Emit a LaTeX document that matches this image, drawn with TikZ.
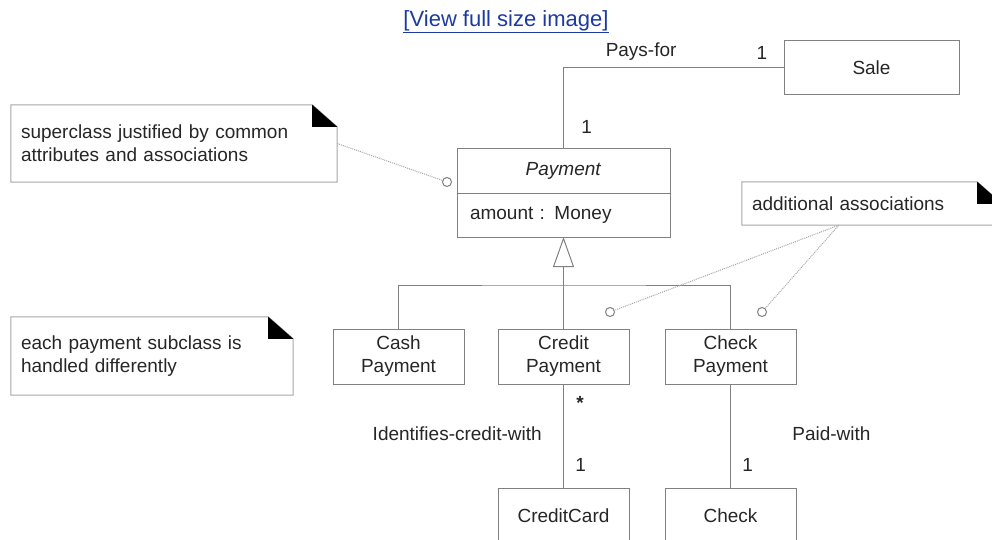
\documentclass[tikz,border=0pt]{standalone}
\usepackage{fontspec}
\setmainfont{Liberation Sans}
\usetikzlibrary{shapes,arrows,arrows.meta,positioning}
\definecolor{linkblue}{RGB}{28,58,160}

% note outline with its folded corner
\newcommand{\notefold}[1]{%
  \draw[draw=black!35, line width=1pt] (#1.north west) -- ([xshift=-25pt]#1.north east)
    -- ([yshift=-22pt]#1.north east) -- (#1.south east) -- (#1.south west) -- cycle;
  \fill[black] ([xshift=-25pt]#1.north east) -- ([xshift=-25pt,yshift=-22pt]#1.north east)
    -- ([yshift=-22pt]#1.north east) -- cycle;}

\begin{document}
\begin{tikzpicture}[
    x=1pt, y=-1pt,
    node distance=34pt,
    auto,
    >=stealth',
    every node/.style={align=center, text=black!85, font=\fontsize{19}{23}\selectfont}
]

% Define styles
\tikzstyle{classbox} = [rectangle, draw=black!50, line width=1pt, outer sep=0pt,
    minimum width=131pt, minimum height=55pt, inner sep=2pt]
\tikzstyle{notebox} = [rectangle, align=left, inner xsep=10pt, inner ysep=2pt]
\tikzstyle{line} = [draw=black!50, line width=1pt]
\tikzstyle{noteline} = [draw=black!35, line width=1pt, densely dotted]
\tikzstyle{anchorring} = [circle, draw=black!50, line width=1pt, minimum size=9pt, inner sep=0pt]

\useasboundingbox (0,0) rectangle (992,540);
\clip (0,0) rectangle (992,540);

% Link
\node [text=linkblue, font=\fontsize{22}{26}\selectfont] (viewlink) at (506,22) {\underline{[View full size image]}};

% Classes
\node [classbox, minimum width=175pt, minimum height=54pt] (sale) at (871.5,67.5) {Sale};
\node [classbox, minimum width=213pt, minimum height=44pt] (payname) at (563.5,171) {\textit{Payment}};
\node [classbox, minimum width=213pt, minimum height=44pt, text width=187pt, inner xsep=13pt,
    align=left, below=0pt of payname] (payattr) {amount :\enspace Money};
\node [classbox, below=92pt of payattr] (credit) {Credit\\Payment};
\node [classbox, left=34pt of credit] (cash) {Cash\\Payment};
\node [classbox, right=36pt of credit] (checkpay) {Check\\Payment};
\node [classbox, below=104pt of credit] (creditcard) {CreditCard};
\node [classbox, below=104pt of checkpay] (check) {Check};

% Notes
\node [notebox, text width=306pt, minimum height=77pt] (note1) at (174,143.5)
    {superclass justified by common\\attributes and associations};
\node [notebox, text width=240pt, minimum height=43pt] (note2) at (872,203.5)
    {additional associations};
\node [notebox, text width=262pt, minimum height=78pt] (note3) at (152,356)
    {each payment subclass is\\handled differently};
\notefold{note1}
\notefold{note2}
\notefold{note3}

\node [anchorring] (ring1) at (447,182) {};
\node [anchorring] (ring2) at (610,312) {};
\node [anchorring] (ring3) at (762,312) {};
\coordinate (notefoot) at ([xshift=97pt]note2.south west);

% Paths
\path [line] (payname.north) |- node [pos=0.134, right=14pt] {1}
    node [pos=0.676, above=3pt] {Pays-for}
    node [pos=0.95, above=4pt] {1} (sale.west);

\coordinate (junction) at ([yshift=-48pt]payattr.south);
\draw [line, -{Triangle[open, length=30pt, width=21pt]}] (credit.north) -- (payattr.south);
\draw [line] (cash.north) |- (junction) -| (checkpay.north);

\path [line] (credit.south) -- node [pos=0.18, right=9pt] {\textbf{*}}
    node [pos=0.48, left=18pt] {Identifies-credit-with}
    node [pos=0.78, right=8pt] {1} (creditcard.north);
\path [line] (checkpay.south) -- node [pos=0.48, right=58pt] {Paid-with}
    node [pos=0.78, right=8pt] {1} (check.north);

\draw [noteline] (note1.east) -- (ring1);
\draw [noteline] (notefoot) -- (ring2);
\draw [noteline] (notefoot) -- (ring3);

\end{tikzpicture}
\end{document}
